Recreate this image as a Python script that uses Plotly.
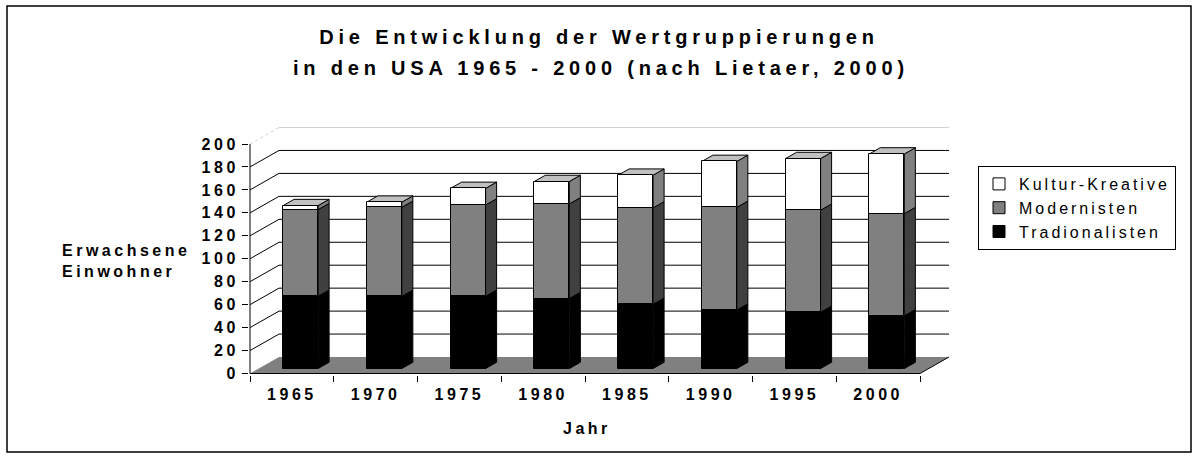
import plotly.graph_objects as go

# ---------------- data ----------------
years = ["1965", "1970", "1975", "1980", "1985", "1990", "1995", "2000"]
tradionalisten = [63, 63, 63, 61, 56, 51, 49, 46]
modernisten = [75.5, 77.5, 79.5, 82.5, 84, 89.5, 89, 89]
kultur_kreative = [3.5, 4.5, 14.5, 19.5, 28.5, 40, 45, 52]
y_ticks = list(range(0, 201, 20))

series = [
    ("Tradionalisten", tradionalisten, "#000000", "#000000", 3),
    ("Modernisten", modernisten, "#808080", "#404040", 2),
    ("Kultur-Kreative", kultur_kreative, "#ffffff", "#808080", 1),
]
TOP_COLOR = "#c0c0c0"
FLOOR_COLOR = "#808080"

# ---------------- layout geometry (pixels) ----------------
W, H = 1198, 457
L, R, T, B = 249, 950, 126, 375          # plot area
PX0, SX = 250.0, 83.75                     # pixel of x=-0.5, px per category
Y0, SY = 373.5, 1.1475                     # pixel of value 0, px per unit
DX = 29 / SX                               # depth offset (data units)
DY = 16.5 / SY
F1, FD = 0.30, 0.38                        # bar front depth fraction, bar depth fraction
BW = 35 / SX                               # bar width

xr = [-0.5 - (PX0 - L) / SX, -0.5 + (R - PX0) / SX]
yr = [-(B - Y0) / SY, (Y0 - T) / SY]


def xp(px):
    return (px - L) / (R - L)


def yp(py):
    return (B - py) / (B - T)


def ls(text, s=3.5):
    return f"<span style='letter-spacing:{s}px'>{text}</span>"


FONT = "Liberation Sans, Arial, sans-serif"
n = len(years)
xs = [i + F1 * DX for i in range(n)]

fig = go.Figure()
shapes = []

# floor
shapes.append(dict(type="path", xref="x", yref="y", layer="below",
                   path=f"M{-0.5},0 L{n-0.5},0 L{n-0.5+DX},{DY} L{-0.5+DX},{DY} Z",
                   fillcolor=FLOOR_COLOR, line=dict(width=0)))
# back wall grid + side wall grid
for v in y_ticks:
    if v == 0:
        continue
    col = "#d0d0d0" if v == 200 else "#000000"
    shapes.append(dict(type="line", xref="x", yref="y", layer="below",
                       x0=-0.5 + DX, x1=n - 0.5 + DX, y0=v + DY, y1=v + DY,
                       line=dict(color=col, width=1)))
    shapes.append(dict(type="line", xref="x", yref="y", layer="below",
                       x0=-0.5, x1=-0.5 + DX, y0=v, y1=v + DY,
                       line=dict(color=col, width=1, dash="dot" if v == 200 else "solid")))
# floor edges and front vertical axis
shapes.append(dict(type="line", xref="x", yref="y", layer="below",
                   x0=-0.5, x1=n - 0.5, y0=0, y1=0, line=dict(color="black", width=1)))
shapes.append(dict(type="line", xref="x", yref="y", layer="below",
                   x0=n - 0.5, x1=n - 0.5 + DX, y0=0, y1=DY, line=dict(color="black", width=1)))
shapes.append(dict(type="line", xref="x", yref="y", layer="below",
                   x0=-0.5, x1=-0.5, y0=0, y1=200, line=dict(color="black", width=1)))

# bars (front faces) + side and top faces
ddx, ddy = FD * DX, FD * DY
cum = [F1 * DY] * n
for name, vals, col, side, rank in series:
    bases = list(cum)
    fig.add_trace(go.Bar(x=xs, y=vals, base=bases, width=BW, name=ls(name, 3),
                         marker=dict(color=col, line=dict(color="black", width=1)),
                         legendrank=rank))
    for i in range(n):
        xr_ = xs[i] + BW / 2
        y0, y1 = bases[i], bases[i] + vals[i]
        shapes.append(dict(type="path", xref="x", yref="y", layer="below",
                           path=f"M{xr_},{y0} L{xr_+ddx},{y0+ddy} L{xr_+ddx},{y1+ddy} L{xr_},{y1} Z",
                           fillcolor=side, line=dict(color="black", width=1)))
        cum[i] = y1
for i in range(n):
    xl_, xr_ = xs[i] - BW / 2, xs[i] + BW / 2
    yt = cum[i]
    shapes.append(dict(type="path", xref="x", yref="y", layer="below",
                       path=f"M{xl_},{yt} L{xr_},{yt} L{xr_+ddx},{yt+ddy} L{xl_+ddx},{yt+ddy} Z",
                       fillcolor=TOP_COLOR, line=dict(color="black", width=1)))

# outer frame
shapes.append(dict(type="rect", xref="paper", yref="paper",
                   x0=xp(7), x1=xp(1191), y0=yp(452), y1=yp(6),
                   line=dict(color="black", width=1.5), fillcolor="rgba(0,0,0,0)"))

annotations = [
    dict(text=ls("in den USA 1965 - 2000 (nach Lietaer, 2000)", 4.8), xref="paper", yref="paper",
         x=xp(601), y=yp(68), xanchor="center", yanchor="middle", showarrow=False,
         font=dict(family=FONT, size=20, color="black", weight="bold")),
    dict(text=ls("Erwachsene") + "<br>" + ls("Einwohner"), xref="paper", yref="paper",
         x=xp(60), y=yp(261), xanchor="left", yanchor="middle", align="left", showarrow=False,
         font=dict(family=FONT, size=16, color="black", weight="bold")),
    dict(text=ls("Jahr"), xref="paper", yref="paper",
         x=xp(587), y=yp(428), xanchor="center", yanchor="middle", showarrow=False,
         font=dict(family=FONT, size=16, color="black", weight="bold")),
]

fig.update_layout(
    width=W, height=H, autosize=False,
    margin=dict(l=L, r=W - R, t=T, b=H - B, pad=0),
    paper_bgcolor="white", plot_bgcolor="white",
    barmode="overlay", bargap=0,
    title=dict(text=ls("Die Entwicklung der Wertgruppierungen", 4.8), x=0.5, xref="container",
               xanchor="center", y=1 - 37 / H, yref="container", yanchor="middle",
               font=dict(family=FONT, size=20, color="black", weight="bold")),
    xaxis=dict(range=xr, tickmode="array", tickvals=list(range(n)),
               ticktext=[ls(y) for y in years], showgrid=False, zeroline=False, showline=False,
               ticks="outside", ticklen=5, tickcolor="rgba(0,0,0,0)",
               minor=dict(tickmode="array", tickvals=[i - 0.5 for i in range(n + 1)],
                          ticks="outside", ticklen=6, tickcolor="black", tickwidth=1, showgrid=False),
               tickfont=dict(family=FONT, size=16, color="black", weight="bold"), fixedrange=True),
    yaxis=dict(range=yr, tickmode="array", tickvals=y_ticks, ticktext=[ls(str(v)) for v in y_ticks],
               showgrid=False, zeroline=False, showline=False,
               ticks="outside", ticklen=6, tickcolor="black", tickwidth=1,
               tickfont=dict(family=FONT, size=16, color="black", weight="bold"), fixedrange=True),
    legend=dict(x=xp(978), y=yp(166), xanchor="left", yanchor="top",
                traceorder="normal",
                bordercolor="black", borderwidth=1, bgcolor="white",
                font=dict(family=FONT, size=16, color="black")),
    shapes=shapes,
    annotations=annotations,
    showlegend=True,
)

fig.write_html("out.html", config={"displayModeBar": False},
               post_script="document.body.style.margin='0px';document.body.style.overflow='hidden';")
